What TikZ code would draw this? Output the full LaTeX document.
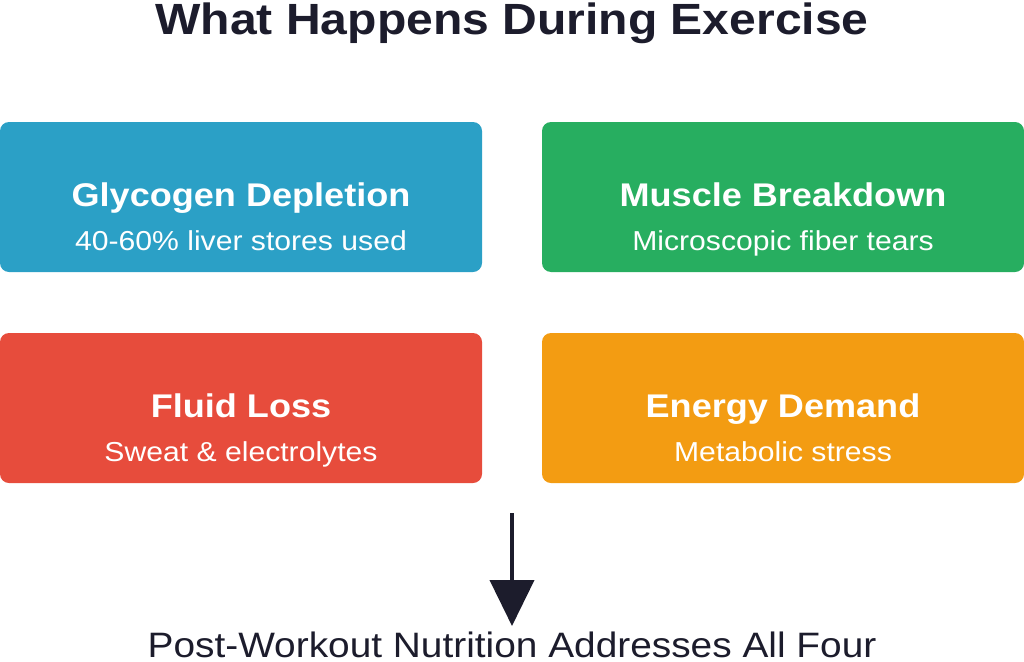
\documentclass[tikz,border=0pt]{standalone}
\usepackage{fontspec}
\setmainfont[FakeStretch=1.1]{Liberation Sans}
\usetikzlibrary{arrows.meta}
\definecolor{navy}{HTML}{1C1C2C}
\definecolor{cblue}{HTML}{2BA0C6}
\definecolor{cgreen}{HTML}{27AE60}
\definecolor{cred}{HTML}{E74C3C}
\definecolor{corange}{HTML}{F39C12}
\tikzset{
  card/.style={rounded corners=9pt, minimum width=482pt, minimum height=150pt, inner sep=0pt},
  ctitle/.style={text=white, font=\fontsize{32.8}{36}\selectfont\bfseries, anchor=base, inner sep=0pt},
  csub/.style={text=white, font=\fontsize{27.4}{30}\selectfont, anchor=base, inner sep=0pt},
}
\begin{document}
\begin{tikzpicture}[x=1pt,y=-1pt]
\useasboundingbox (0,0) rectangle (1024,661);
\node[text=navy, font=\fontsize{43.7}{48}\selectfont\bfseries, anchor=base, inner sep=0pt] (title) at (512,35) {What Happens During Exercise};
\node[card, fill=cblue] (b1) at (241,197) {};
\node[card, fill=cgreen] (b2) at (783,197) {};
\node[card, fill=cred] (b3) at (241,408) {};
\node[card, fill=corange] (b4) at (783,408) {};
\node[ctitle] (t1) at (241,206.5) {Glycogen Depletion};
\node[csub] (s1) at (241,250.5) {40-60\% liver stores used};
\node[ctitle] (t2) at (783,206.5) {Muscle Breakdown};
\node[csub] (s2) at (783,250.5) {Microscopic fiber tears};
\node[ctitle] (t3) at (241,417.5) {Fluid Loss};
\node[csub] (s3) at (241,461.5) {Sweat \& electrolytes};
\node[ctitle] (t4) at (783,417.5) {Energy Demand};
\node[csub] (s4) at (783,461.5) {Metabolic stress};
\coordinate (a0) at (512,513);
\coordinate (a1) at (512,626);
\node[text=navy, font=\fontsize{35.3}{38}\selectfont, anchor=base, inner sep=0pt, text depth=0pt] (post) at (512,657) {Post-Workout Nutrition Addresses All Four};
\draw[navy, line width=4pt, -{Triangle[width=44pt,length=46pt]}] (a0) -- (a1);
\end{tikzpicture}
\end{document}
